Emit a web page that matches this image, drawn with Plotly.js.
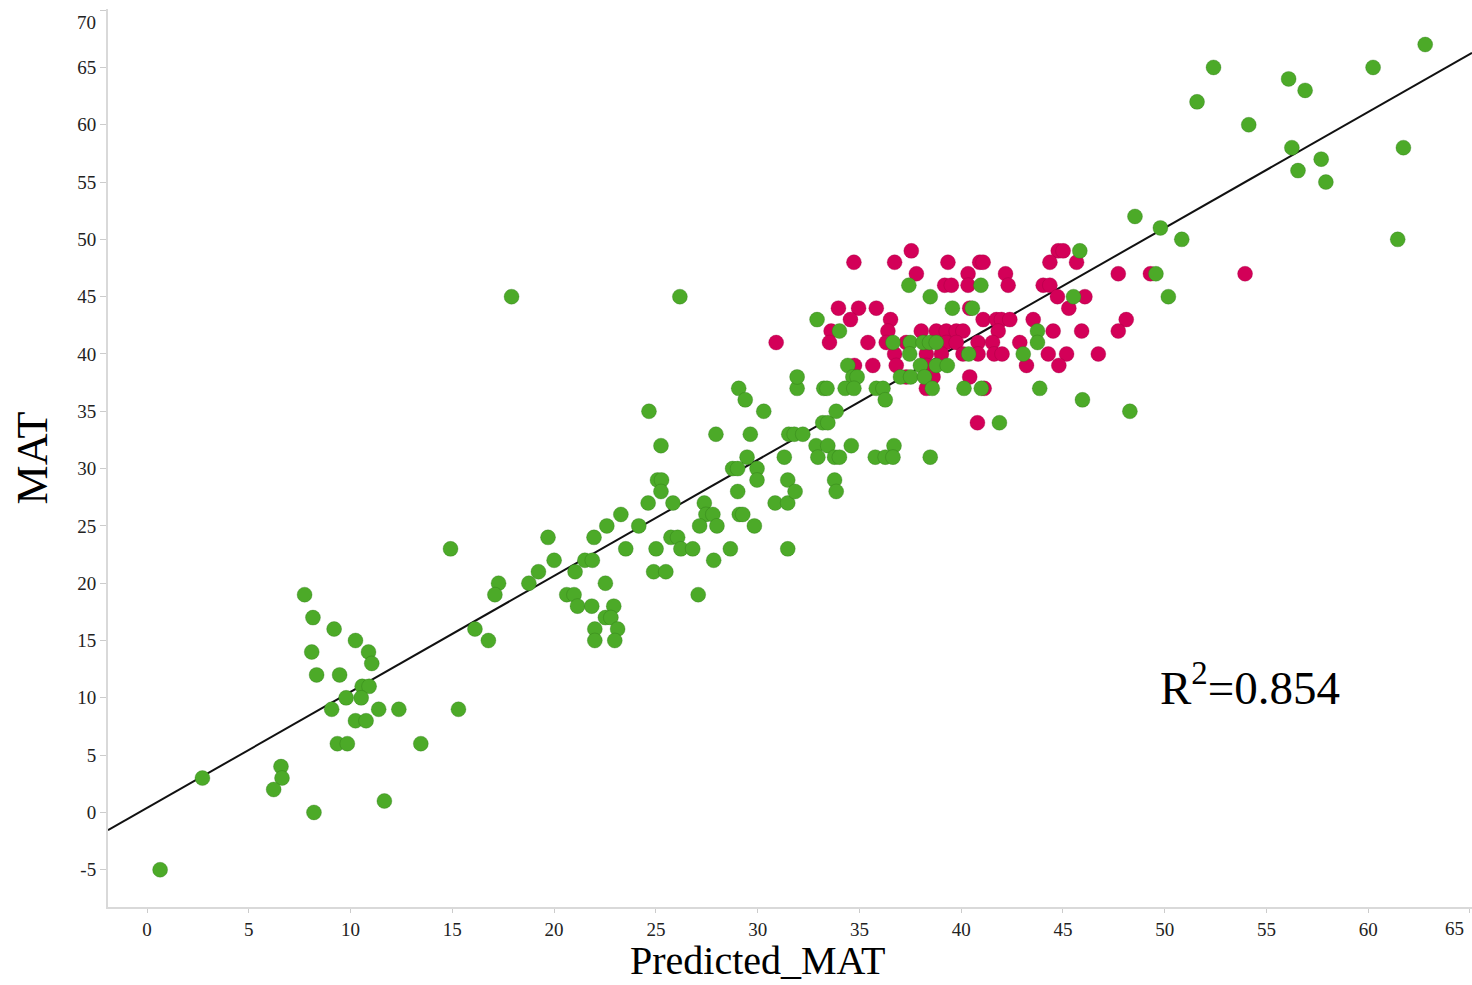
<!DOCTYPE html>
<html>
<head>
<meta charset="utf-8">
<script src="https://cdn.plot.ly/plotly-3.0.1.min.js"></script>
<style>html,body{margin:0;padding:0;background:#fff;}#chart{width:1472px;height:985px;}</style>
</head>
<body>
<div id="chart"></div>
<script>
// ---- data ----
var greenX = [
  0.64, 2.72, 6.58, 6.63, 6.22, 8.2, 11.66, 7.74, 8.15, 9.19, 10.24, 10.88, 11.04, 8.09, 8.33, 9.46,
  10.57, 10.91, 9.78, 10.52, 9.07, 11.38, 12.37, 15.3, 10.24, 10.76, 9.35, 9.84, 13.45, 16.11, 16.77,
  14.91, 17.91, 26.18,
  24.66, 25.25, 25.08, 25.28, 25.25, 24.62, 25.84, 23.28, 22.59, 24.16, 19.7, 21.96, 23.52, 25.01,
  20.0, 21.51, 21.88, 19.23, 21.03, 17.27, 18.76, 22.52, 17.09, 20.62, 20.98, 21.15, 21.85, 22.93,
  22.52, 22.79, 22.0, 23.12, 22.0, 22.98, 25.74, 26.07, 26.23, 26.81, 24.89, 25.49, 27.84, 27.08,
  28.66, 27.38, 27.46, 27.8, 27.15, 28.0, 29.84, 29.02, 29.1, 29.27, 30.86, 31.48, 31.48, 31.84,
  31.48, 27.95, 29.07, 29.39, 30.3, 29.64, 29.48, 28.77, 29.02, 29.97, 29.97, 31.31, 31.53, 31.8,
  32.22, 31.94, 31.94, 33.25, 33.41, 32.87, 33.45, 32.96, 33.78, 34.02, 33.2, 33.45, 33.86, 33.78, 33.86,
  37.43, 40.97, 45.83, 45.52, 38.48, 39.57, 40.55, 32.92, 34.02, 43.75,
  36.65, 37.5, 38.13, 38.45, 38.78, 43.75,
  37.47, 40.37, 43.05,
  34.43, 38.0, 38.78, 39.32,
  34.68, 34.89, 37.02, 37.52, 38.2,
  34.3, 34.73, 35.83, 36.16, 38.58, 40.14, 40.99, 43.86,
  36.27, 45.96, 48.29, 41.88,
  34.6, 36.7, 35.78, 36.27, 36.65, 38.48,
  62.8, 52.4, 60.24, 56.09, 56.9, 51.59, 54.13, 56.25, 61.73, 57.69, 56.55, 57.92, 61.45,
  48.54, 49.79, 50.84, 49.57, 50.18
];
var greenY = [
  -5, 3, 4, 3, 2, 0, 1, 19, 17, 16, 15, 14, 13, 14, 12, 12,
  11, 11, 10, 10, 9, 9, 9, 9, 8, 8, 6, 6, 6, 16, 15,
  23, 45, 45,
  35, 32, 29, 29, 28, 27, 27, 26, 25, 25, 24, 24, 23, 23,
  22, 22, 22, 21, 21, 20, 20, 20, 19, 19, 19, 18, 18, 18,
  17, 17, 16, 16, 15, 15, 24, 24, 23, 23, 21, 21, 22, 19,
  23, 27, 26, 26, 25, 25, 25, 28, 26, 26, 27, 27, 29, 28,
  23, 33, 37, 36, 35, 33, 31, 30, 30, 30, 29, 31, 33, 33,
  33, 37, 38, 37, 37, 32, 32, 31, 31, 31, 34, 34, 35, 29, 28,
  46, 46, 49, 45, 45, 44, 44, 43, 42, 42,
  41, 41, 41, 41, 41, 41,
  40, 40, 40,
  39, 39, 39, 39,
  38, 38, 38, 38, 38,
  37, 37, 37, 37, 37, 37, 37, 37,
  36, 36, 35, 34,
  32, 32, 31, 31, 31, 31,
  67, 65, 65, 64, 63, 62, 60, 58, 58, 57, 56, 55, 50,
  52, 51, 50, 47, 45
];
var redX = [
  37.55, 44.77, 45.01,
  34.73, 36.73, 39.35, 40.91, 41.08, 44.36, 45.67,
  37.8, 40.34, 42.18, 47.72, 49.3, 53.95,
  39.19, 39.52, 40.34, 42.31, 44.03, 44.36,
  44.73, 46.08,
  33.97, 34.96, 35.83, 40.42, 45.29,
  34.56, 36.53, 41.08, 41.73, 41.98, 42.39, 43.54, 48.11,
  33.61, 36.4, 38.04, 38.78, 39.27, 39.76, 40.09, 41.82, 44.52, 45.92, 47.72,
  30.91, 33.53, 35.42, 36.32, 37.3, 39.27, 39.76, 40.83, 41.54, 42.88,
  36.73, 38.29, 39.03, 40.09, 40.83, 41.62, 42.01, 44.28, 45.18, 46.74,
  34.76, 35.66, 36.81, 38.29, 43.21, 44.8,
  37.3, 38.62, 40.42,
  38.29, 41.13,
  40.8
];
var redY = [
  49, 49, 49,
  48, 48, 48, 48, 48, 48, 48,
  47, 47, 47, 47, 47, 47,
  46, 46, 46, 46, 46, 46,
  45, 45,
  44, 44, 44, 44, 44,
  43, 43, 43, 43, 43, 43, 43, 43,
  42, 42, 42, 42, 42, 42, 42, 42, 42, 42, 42,
  41, 41, 41, 41, 41, 41, 41, 41, 41, 41,
  40, 40, 40, 40, 40, 40, 40, 40, 40, 40,
  39, 39, 39, 39, 39, 39,
  38, 38, 38,
  37, 37,
  34
];
var fitSlope = 1.012;
var fitIntercept = 0.4;
var xTicks = [0, 5, 10, 15, 20, 25, 30, 35, 40, 45, 50, 55, 60];
var xEdgeTick = 65;
var yTicks = [-5, 0, 5, 10, 15, 20, 25, 30, 35, 40, 45, 50, 55, 60, 65];
var yEdgeTick = 70;
var xTitle = 'Predicted_MAT';
var yTitle = 'MAT';
var r2Text = 'R<sup>2</sup>=0.854';

// ---- chart ----
var xRange = [-1.92, 65.1];
var yRange = [-8.25, 70.1];
var lineX = [xRange[0], xRange[1]];
var lineY = lineX.map(function (v) { return fitSlope * v + fitIntercept; });

var serif = '"Liberation Serif", "DejaVu Serif", serif';
var tickFont = {family: serif, size: 19, color: '#222222'};

var traces = [
  {
    x: lineX, y: lineY, type: 'scatter', mode: 'lines',
    line: {color: '#111111', width: 2}, hoverinfo: 'skip', showlegend: false
  },
  {
    x: redX, y: redY, type: 'scatter', mode: 'markers', name: 'red',
    marker: {color: 'rgb(211,0,88)', size: 15, line: {color: 'rgba(150,0,60,0.5)', width: 0.6}},
    showlegend: false
  },
  {
    x: greenX, y: greenY, type: 'scatter', mode: 'markers', name: 'green',
    marker: {color: 'rgb(76,170,40)', size: 15, line: {color: 'rgba(40,110,20,0.5)', width: 0.6}},
    showlegend: false
  }
];

var layout = {
  width: 1472, height: 985,
  margin: {l: 108, r: 0, t: 9, b: 78, pad: 0},
  paper_bgcolor: '#ffffff', plot_bgcolor: '#ffffff',
  showlegend: false,
  xaxis: {
    range: xRange, showgrid: false, zeroline: false,
    showline: true, linecolor: '#d9d9d9', linewidth: 2,
    ticks: 'outside', ticklen: 4, tickwidth: 1, tickcolor: '#cccccc',
    tickmode: 'array', tickvals: xTicks, ticktext: xTicks.map(String),
    minor: {tickvals: [xEdgeTick], ticks: 'outside', ticklen: 4, tickwidth: 1, tickcolor: '#cccccc', showgrid: false},
    tickfont: tickFont
  },
  yaxis: {
    range: yRange, showgrid: false, zeroline: false,
    showline: true, linecolor: '#d9d9d9', linewidth: 2,
    ticks: 'outside', ticklen: 6, tickwidth: 1, tickcolor: '#cccccc',
    tickmode: 'array', tickvals: yTicks, ticktext: yTicks.map(String),
    minor: {tickvals: [yEdgeTick], ticks: 'outside', ticklen: 6, tickwidth: 1, tickcolor: '#cccccc', showgrid: false},
    tickfont: tickFont,
    title: {text: yTitle, font: {family: serif, size: 44, color: '#000000'}, standoff: 16}
  },
  annotations: [
    {
      xref: 'x', yref: 'y', x: 54.2, y: 11.2,
      text: r2Text, showarrow: false,
      font: {family: serif, size: 47, color: '#000000'}
    },
    {
      xref: 'paper', yref: 'paper', x: 0.4765, y: 0,
      xanchor: 'center', yanchor: 'bottom', yshift: -77, borderpad: 0,
      text: xTitle, showarrow: false,
      font: {family: serif, size: 40, color: '#000000'}
    },
    {
      xref: 'x', yref: 'paper', x: xEdgeTick, y: 0,
      xanchor: 'center', yanchor: 'middle', xshift: -15, yshift: -21,
      text: String(xEdgeTick), showarrow: false, font: tickFont
    },
    {
      xref: 'paper', yref: 'y', x: 0, y: yEdgeTick,
      xanchor: 'right', yanchor: 'middle', xshift: -10, yshift: -12,
      text: String(yEdgeTick), showarrow: false, font: tickFont
    }
  ]
};

Plotly.newPlot('chart', traces, layout, {displayModeBar: false, staticPlot: true});
</script>
</body>
</html>
